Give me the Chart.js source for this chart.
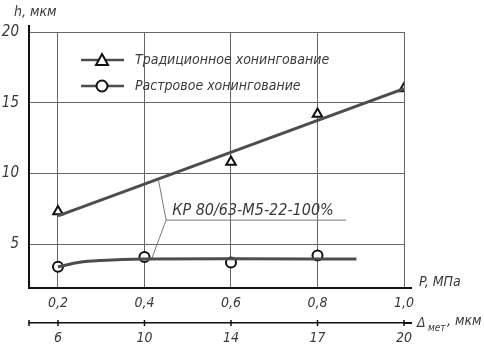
<!DOCTYPE html>
<html>
<head>
<meta charset="utf-8">
<script src="https://cdn.jsdelivr.net/npm/chart.js@4/dist/chart.umd.min.js"></script>
<style>
  html, body { margin: 0; padding: 0; background: #fff; }
  #wrap { width: 484px; height: 346px; position: relative; }
</style>
</head>
<body>
<div id="wrap"><canvas id="honingChart"></canvas></div>
<script>
"use strict";

// pressure ticks (upper axis) and matching allowance ticks (lower axis)
const pressureTicks = [0.2, 0.4, 0.6, 0.8, 1.0];
const pressureLabels = ["0,2", "0,4", "0,6", "0,8", "1,0"];
const allowanceLabels = ["6", "10", "14", "17", "20"];
const heightTicks = [5, 10, 15, 20];

// measured points
const tradP = [0.2, 0.6, 0.8, 1.0];
const tradH = [7.3, 10.8, 14.2, 16.0];
const rastP = [0.2, 0.4, 0.6, 0.8];
const rastH = [3.4, 4.1, 3.7, 4.2];

// fitted curves as drawn
const tradFitP = [0.2, 1.0];
const tradFitH = [7.0, 16.0];
const rastFitP = [0.2, 0.25, 0.3, 0.4, 0.6, 0.89];
const rastFitH = [3.4, 3.72, 3.85, 3.95, 3.97, 3.95];

// leader line for the regime note
const leaderP = [0.432, 0.45, 0.417];
const leaderH = [9.6, 6.7, 4.0];
const underlineP = [0.45, 0.866];
const underlineH = [6.7, 6.7];

const legendNames = ["Традиционное хонингование", "Растровое хонингование"];
const noteText = "КР 80/63-М5-22-100%";

const FONT = "'DejaVu Sans Condensed', 'Liberation Sans Narrow', 'DejaVu Sans', sans-serif";
const INK = "#3a3a3a";
const LINE = "#4d4d4d";

function toPoints(xs, ys) {
  return xs.map((x, i) => ({ x: x, y: ys[i] }));
}

function setTicks(values) {
  return (scale) => {
    scale.ticks = values.map((v) => ({ value: v }));
  };
}

const decorPlugin = {
  id: "decor",
  afterDraw(chart) {
    const ctx = chart.ctx;
    const area = chart.chartArea;
    const xs = chart.scales.x;
    const ys = chart.scales.y;
    ctx.save();

    // axis extensions past the frame
    ctx.strokeStyle = "#111";
    ctx.lineWidth = 2;
    ctx.beginPath();
    ctx.moveTo(area.left, area.top);
    ctx.lineTo(area.left, area.top - 7);
    ctx.moveTo(area.right, area.bottom);
    ctx.lineTo(area.right + 8, area.bottom);
    const lowerY = chart.scales.x2.top;
    ctx.moveTo(area.right, lowerY);
    ctx.lineTo(area.right + 8, lowerY);
    ctx.stroke();

    // small ticks crossing the lower scale line
    ctx.lineWidth = 1.5;
    ctx.beginPath();
    [area.left].concat(pressureTicks.map((v) => xs.getPixelForValue(v))).forEach((px) => {
      ctx.moveTo(px, lowerY - 3);
      ctx.lineTo(px, lowerY + 3);
    });
    ctx.stroke();

    // legend
    ctx.font = "italic 14px " + FONT;
    ctx.textBaseline = "middle";
    ctx.fillStyle = INK;
    const rows = [
      { y: 60, style: "triangle" },
      { y: 86, style: "circle" }
    ];
    rows.forEach((row, i) => {
      ctx.strokeStyle = LINE;
      ctx.lineWidth = 2.5;
      ctx.beginPath();
      ctx.moveTo(81, row.y);
      ctx.lineTo(124, row.y);
      ctx.stroke();
      ctx.fillStyle = "#fff";
      ctx.strokeStyle = "#111";
      ctx.lineWidth = 2;
      ctx.beginPath();
      if (row.style === "triangle") {
        ctx.moveTo(102, row.y - 6);
        ctx.lineTo(108, row.y + 5);
        ctx.lineTo(96, row.y + 5);
        ctx.closePath();
      } else {
        ctx.arc(102, row.y, 5.5, 0, Math.PI * 2);
      }
      ctx.fill();
      ctx.stroke();
      ctx.fillStyle = INK;
      ctx.fillText(legendNames[i], 135, row.y);
    });

    // regime note above its underline
    ctx.textBaseline = "alphabetic";
    ctx.font = "italic 16px " + FONT;
    ctx.fillText(noteText, xs.getPixelForValue(0.464), ys.getPixelForValue(6.7) - 5);

    // axis titles
    ctx.font = "italic 14px " + FONT;
    ctx.fillText("h, мкм", 14, 16);
    ctx.fillText("P, МПа", 419, 286);
    ctx.fillText("Δ", 417, 327);
    ctx.font = "italic 10px " + FONT;
    ctx.fillText("мет", 428, 331);
    ctx.font = "italic 14px " + FONT;
    ctx.fillText(", мкм", 447, 325);

    ctx.restore();
  }
};

const ctx = document.getElementById("honingChart").getContext("2d");

new Chart(ctx, {
  type: "scatter",
  data: {
    datasets: [
      {
        data: toPoints(tradFitP, tradFitH),
        showLine: true,
        borderColor: LINE,
        borderWidth: 3,
        pointRadius: 0
      },
      {
        data: toPoints(rastFitP, rastFitH),
        showLine: true,
        borderColor: LINE,
        borderWidth: 3,
        pointRadius: 0,
        tension: 0.4,
        cubicInterpolationMode: "monotone"
      },
      {
        data: toPoints(leaderP, leaderH),
        showLine: true,
        borderColor: "#777",
        borderWidth: 1,
        pointRadius: 0
      },
      {
        data: toPoints(underlineP, underlineH),
        showLine: true,
        borderColor: "#777",
        borderWidth: 1,
        pointRadius: 0
      },
      {
        data: toPoints(tradP, tradH),
        pointStyle: "triangle",
        pointRadius: 5.5,
        pointBorderWidth: 2,
        pointBorderColor: "#111",
        pointBackgroundColor: "#fff"
      },
      {
        data: toPoints(rastP, rastH),
        pointStyle: "circle",
        pointRadius: 5,
        pointBorderWidth: 2,
        pointBorderColor: "#111",
        pointBackgroundColor: "#fff"
      }
    ]
  },
  options: {
    responsive: true,
    maintainAspectRatio: false,
    animation: false,
    layout: { padding: { top: 32, right: 80, left: 0, bottom: 0 } },
    plugins: {
      legend: { display: false },
      tooltip: { enabled: false }
    },
    scales: {
      x: {
        type: "linear",
        position: "bottom",
        min: 0.133,
        max: 1.0,
        afterBuildTicks: setTicks(pressureTicks),
        afterFit: (scale) => { scale.height = 35; },
        grid: { color: "#666", lineWidth: 1, drawTicks: false },
        border: { color: "#111", width: 2 },
        ticks: {
          padding: 7,
          color: INK,
          font: { family: FONT, size: 14, style: "italic" },
          maxRotation: 0,
          callback: (v, i) => pressureLabels[i]
        }
      },
      x2: {
        type: "linear",
        position: "bottom",
        min: 0.133,
        max: 1.0,
        afterBuildTicks: setTicks(pressureTicks),
        afterFit: (scale) => { scale.height = 23; },
        grid: { drawOnChartArea: false, drawTicks: false },
        border: { color: "#111", width: 1.5 },
        ticks: {
          padding: 7,
          color: INK,
          font: { family: FONT, size: 14, style: "italic" },
          maxRotation: 0,
          callback: (v, i) => allowanceLabels[i]
        }
      },
      y: {
        type: "linear",
        min: 1.9,
        max: 20,
        afterBuildTicks: setTicks(heightTicks),
        afterFit: (scale) => { scale.width = 29; },
        grid: { color: "#666", lineWidth: 1, drawTicks: false },
        border: { color: "#111", width: 2 },
        ticks: {
          padding: 10,
          color: INK,
          font: { family: FONT, size: 15, style: "italic" }
        }
      }
    }
  },
  plugins: [decorPlugin]
});
</script>
</body>
</html>
